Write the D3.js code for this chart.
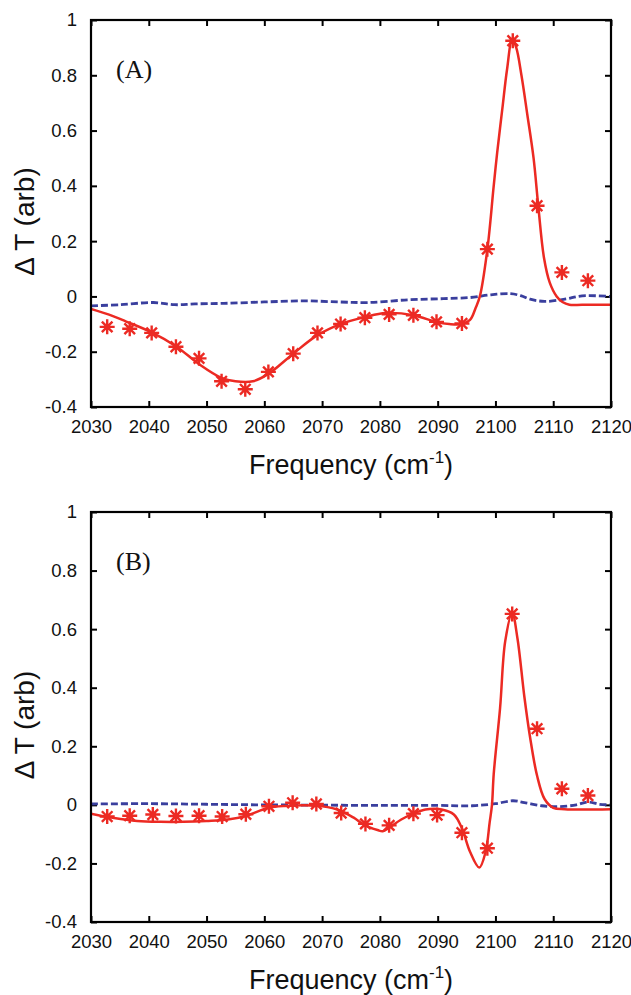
<!DOCTYPE html>
<html>
<head>
<meta charset="utf-8">
<script src="https://cdn.jsdelivr.net/npm/d3@7"></script>
<style>
  html, body { margin: 0; padding: 0; background: #fff; }
  svg { display: block; }
</style>
</head>
<body>
<svg id="chart" width="631" height="995"></svg>
<script>
// ---------- data ----------
const xTicks = [2030, 2040, 2050, 2060, 2070, 2080, 2090, 2100, 2110, 2120];
const yTicks = [-0.4, -0.2, 0, 0.2, 0.4, 0.6, 0.8, 1];
const yTickLabels = ["-0.4", "-0.2", "0", "0.2", "0.4", "0.6", "0.8", "1"];
const panelLabels = ["(A)", "(B)"];
const xTitle = "Frequency (cm";
const yTitle = "\u0394 T (arb)";

// Panel A: measured points (asterisks)
const markA_x = [2032.8, 2036.7, 2040.5, 2044.7, 2048.7, 2052.6, 2056.7, 2060.7, 2065.0, 2069.2, 2073.2, 2077.4, 2081.6, 2085.8, 2089.8, 2094.2, 2098.6, 2103.0, 2107.2, 2111.5, 2116.0];
const markA_y = [-0.11, -0.117, -0.132, -0.182, -0.224, -0.307, -0.336, -0.273, -0.207, -0.132, -0.1, -0.077, -0.065, -0.068, -0.092, -0.098, 0.171, 0.925, 0.328, 0.087, 0.057];
// Panel A: fit (solid red)
const fitA_x = [2030, 2033, 2036, 2040.5, 2044.7, 2048.7, 2052.6, 2055, 2058, 2060.7, 2065, 2069.2, 2073.2, 2077.4, 2081, 2085.8, 2089.8, 2092, 2094.2, 2095.6, 2096.6, 2097.3, 2098.6, 2099.7, 2100.3, 2101.2, 2102, 2102.9, 2103.6, 2104.5, 2105.5, 2106.6, 2107.4, 2108.4, 2109.4, 2110.6, 2111.6, 2112.8, 2115, 2120];
const fitA_y = [-0.045, -0.065, -0.09, -0.13, -0.18, -0.245, -0.295, -0.307, -0.307, -0.28, -0.207, -0.14, -0.1, -0.075, -0.06, -0.068, -0.093, -0.1, -0.1, -0.085, -0.04, 0.0, 0.17, 0.4, 0.52, 0.68, 0.82, 0.93, 0.9, 0.8, 0.66, 0.5, 0.33, 0.14, 0.05, 0.0, -0.02, -0.03, -0.03, -0.03];
// Panel A: reference (dashed blue)
const refA_x = [2030, 2035, 2040.8, 2044.5, 2048, 2053, 2060, 2067, 2073, 2078, 2085, 2091, 2095.6, 2099.2, 2102.6, 2104.5, 2106, 2108.5, 2112, 2115, 2120];
const refA_y = [-0.034, -0.03, -0.022, -0.03, -0.027, -0.025, -0.02, -0.016, -0.02, -0.022, -0.012, -0.008, -0.004, 0.006, 0.01, 0.002, -0.01, -0.018, -0.01, 0.002, 0.0];

// Panel B: measured points
const markB_x = [2032.8, 2036.7, 2040.7, 2044.7, 2048.7, 2052.7, 2056.8, 2060.8, 2064.9, 2069.0, 2073.3, 2077.5, 2081.6, 2085.8, 2089.9, 2094.2, 2098.6, 2102.9, 2107.2, 2111.5, 2116.0];
const markB_y = [-0.04, -0.037, -0.033, -0.038, -0.037, -0.04, -0.032, -0.005, 0.007, 0.003, -0.028, -0.065, -0.07, -0.03, -0.035, -0.095, -0.148, 0.652, 0.26, 0.055, 0.032];
// Panel B: fit
const fitB_x = [2030, 2034, 2038, 2042, 2046, 2050, 2053.7, 2056.8, 2060.6, 2063.5, 2069, 2072.5, 2075.4, 2077.5, 2079.6, 2080.5, 2081.6, 2083.7, 2085.8, 2087.9, 2090.7, 2092.8, 2094.2, 2095.6, 2097.2, 2098.3, 2099.0, 2099.4, 2099.7, 2100.8, 2101.7, 2102.9, 2103.8, 2105.0, 2106.0, 2107.2, 2108.5, 2110.0, 2112, 2120];
const fitB_y = [-0.03, -0.045, -0.055, -0.058, -0.058, -0.055, -0.05, -0.038, -0.011, -0.004, -0.003, -0.015, -0.043, -0.071, -0.086, -0.09, -0.078, -0.05, -0.03, -0.016, -0.016, -0.033, -0.08, -0.16, -0.214, -0.16, -0.06, 0.0, 0.105, 0.33, 0.56, 0.655, 0.57, 0.37, 0.23, 0.1, 0.02, -0.01, -0.015, -0.015];
// Panel B: reference
const refB_x = [2030, 2040, 2050, 2060, 2070, 2080, 2090, 2096, 2100, 2103, 2105, 2108, 2111, 2114, 2116, 2118, 2120];
const refB_y = [0.003, 0.004, 0.002, 0.0, -0.001, -0.002, -0.002, -0.003, 0.004, 0.014, 0.008, -0.003, -0.006, 0.0, 0.01, 0.002, 0.0];

// ---------- drawing ----------
const svg = d3.select("#chart");
const RED = "#ec2a23";
const BLUE = "#3a3f9e";
const SANS = "'Liberation Sans', Arial, Helvetica, sans-serif";
const SERIF = "'Liberation Serif', 'Times New Roman', serif";

const panels = [
  { top: 20, bottom: 407, label: panelLabels[0], mx: markA_x, my: markA_y, fx: fitA_x, fy: fitA_y, rx: refA_x, ry: refA_y },
  { top: 512, bottom: 922, label: panelLabels[1], mx: markB_x, my: markB_y, fx: fitB_x, fy: fitB_y, rx: refB_x, ry: refB_y }
];
const left = 91, right = 611;

panels.forEach(p => {
  const x = d3.scaleLinear().domain([2030, 2120]).range([left, right]);
  const y = d3.scaleLinear().domain([-0.4, 1]).range([p.bottom, p.top]);
  const g = svg.append("g");
  const tl = 6;

  const xb = g.append("g").attr("transform", `translate(0,${p.bottom})`)
    .call(d3.axisBottom(x).tickValues(xTicks).tickSizeInner(-tl).tickSizeOuter(0).tickPadding(tl + 7).tickFormat(d3.format("d")));
  const xt = g.append("g").attr("transform", `translate(0,${p.top})`)
    .call(d3.axisTop(x).tickValues(xTicks).tickSizeInner(-tl).tickSizeOuter(0).tickFormat(""));
  const yl = g.append("g").attr("transform", `translate(${left},0)`)
    .call(d3.axisLeft(y).tickValues(yTicks).tickSizeInner(-tl).tickSizeOuter(0).tickPadding(tl + 8)
      .tickFormat((d, i) => yTickLabels[i]));
  const yr = g.append("g").attr("transform", `translate(${right},0)`)
    .call(d3.axisRight(y).tickValues(yTicks).tickSizeInner(-tl).tickSizeOuter(0).tickFormat(""));
  [xb, xt, yl, yr].forEach(a => {
    a.select(".domain").remove();
    a.selectAll(".tick line").attr("stroke", "#000").attr("stroke-width", 2);
    a.selectAll("text").attr("font-family", SANS).attr("font-size", 18.5).attr("fill", "#111");
  });
  xb.selectAll("text").attr("dy", "0.71em");

  const cid = "clip" + p.top;
  g.append("clipPath").attr("id", cid).append("rect")
    .attr("x", left).attr("y", p.top).attr("width", right - left).attr("height", p.bottom - p.top);
  const plot = g.append("g").attr("clip-path", `url(#${cid})`);

  const line = d3.line().x(d => x(d[0])).y(d => y(d[1])).curve(d3.curveCatmullRom.alpha(0.5));

  plot.append("path").datum(d3.zip(p.rx, p.ry)).attr("d", line)
    .attr("fill", "none").attr("stroke", BLUE).attr("stroke-width", 2.8).attr("stroke-dasharray", "7,3");
  plot.append("path").datum(d3.zip(p.fx, p.fy)).attr("d", line)
    .attr("fill", "none").attr("stroke", RED).attr("stroke-width", 2.5);

  const r = 7.5;
  const s = r * 0.707;
  const star = `M${-r},0L${r},0M0,${-r}L0,${r}M${-s},${-s}L${s},${s}M${-s},${s}L${s},${-s}`;
  g.append("g").selectAll("path").data(d3.zip(p.mx, p.my)).join("path")
    .attr("transform", d => `translate(${x(d[0])},${y(d[1])})`)
    .attr("d", star).attr("fill", "none").attr("stroke", RED).attr("stroke-width", 2.4);

  g.append("rect").attr("x", left).attr("y", p.top).attr("width", right - left).attr("height", p.bottom - p.top)
    .attr("fill", "none").attr("stroke", "#000").attr("stroke-width", 2.2);

  g.append("text").attr("x", 116).attr("y", p.top + 58).attr("font-family", SERIF).attr("font-size", 26)
    .attr("fill", "#111").text(p.label);

  const xtTxt = g.append("text").attr("x", (left + right) / 2).attr("y", p.bottom + 67)
    .attr("text-anchor", "middle").attr("font-family", SANS).attr("font-size", 27).attr("fill", "#111");
  xtTxt.append("tspan").text(xTitle);
  xtTxt.append("tspan").attr("dy", -11).attr("font-size", 17).text("-1");
  xtTxt.append("tspan").attr("dy", 11).text(")");

  g.append("text").attr("transform", `translate(34,${(p.top + p.bottom) / 2 + 8}) rotate(-90)`)
    .attr("text-anchor", "middle").attr("font-family", SANS).attr("font-size", 28).attr("fill", "#111")
    .attr("xml:space", "preserve").text(yTitle);
});
</script>
</body>
</html>
